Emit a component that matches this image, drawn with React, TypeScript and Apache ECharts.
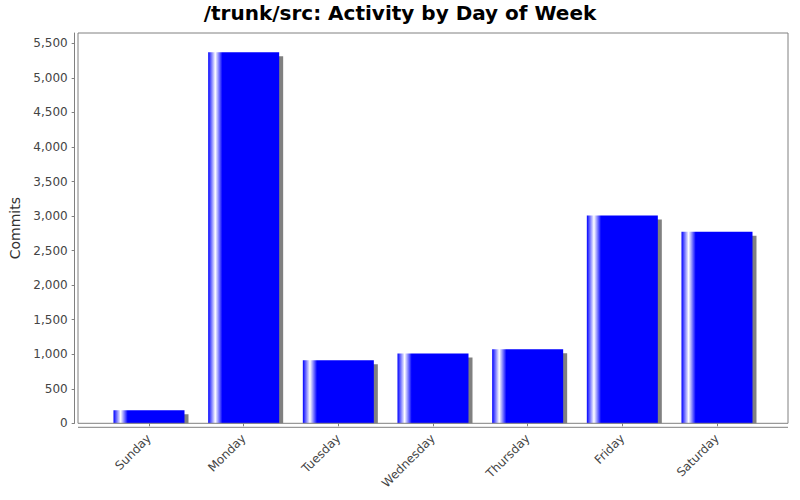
import { useEffect, useRef } from 'react'
import * as echarts from 'echarts'

// data
const days = ['Sunday', 'Monday', 'Tuesday', 'Wednesday', 'Thursday', 'Friday', 'Saturday']
const commits = [188, 5373, 912, 1012, 1072, 3008, 2774]

const yMax = 5650
const yStep = 500

const FONT = '"DejaVu Sans", sans-serif'
const BAR_W = 71
const SHADOW = 4

export default function App() {
  const chartRef = useRef<HTMLDivElement>(null)

  useEffect(() => {
    if (!chartRef.current) return
    document.body.style.margin = '0'
    const chart = echarts.init(chartRef.current, null, { renderer: 'svg' })

    const barFill = new echarts.graphic.LinearGradient(0, 0, 1, 0, [
      { offset: 0, color: '#0000ff' },
      { offset: 0.1, color: '#ffffff' },
      { offset: 0.2, color: '#0000ff' },
      { offset: 1, color: '#0000ff' },
    ])

    const option = {
      animation: false,
      backgroundColor: '#ffffff',
      title: {
        text: '/trunk/src: Activity by Day of Week',
        left: 'center',
        top: -2,
        textStyle: { fontFamily: FONT, fontSize: 20, fontWeight: 'bold', color: '#000000' },
      },
      grid: { left: 101.67, right: 35.67, top: 33, bottom: 76.7 },
      xAxis: {
        type: 'category',
        data: days,
        offset: 4,
        axisLine: { show: false },
        axisTick: { show: true, alignWithLabel: true, length: 3, lineStyle: { color: '#808080' } },
        axisLabel: {
          rotate: 45,
          margin: 9,
          fontFamily: FONT,
          fontSize: 12,
          color: '#444444',
        },
      },
      yAxis: {
        type: 'value',
        min: 0,
        max: yMax,
        interval: yStep,
        offset: 27,
        name: 'Commits',
        nameLocation: 'middle',
        nameGap: 48,
        nameTextStyle: { fontFamily: FONT, fontSize: 14, color: '#333333' },
        axisLine: { show: true, lineStyle: { color: '#808080' } },
        axisTick: { show: true, length: 3, lineStyle: { color: '#808080' } },
        splitLine: { show: false },
        axisLabel: {
          margin: 7,
          fontFamily: FONT,
          fontSize: 12,
          color: '#444444',
          formatter: (v: number) => v.toLocaleString('en-US'),
          showMaxLabel: false,
        },
      },
      graphic: [
        {
          type: 'rect',
          shape: { x: 78, y: 33, width: 710, height: 390.3 },
          style: { fill: 'none', stroke: '#808080', lineWidth: 1 },
          z: 10,
        },
        {
          type: 'line',
          shape: { x1: 78, y1: 427.3, x2: 788, y2: 427.3 },
          style: { stroke: '#808080', lineWidth: 1 },
          z: 10,
        },
      ],
      series: [
        {
          // drop shadow behind each bar
          type: 'custom',
          z: 1,
          data: commits.map((v, i) => [i, v]),
          renderItem: (params: any, api: any) => {
            const top = api.coord([api.value(0), api.value(1)])
            const base = api.coord([api.value(0), 0])
            const h = base[1] - top[1] - SHADOW
            if (h <= 0) return null
            return {
              type: 'rect',
              shape: { x: top[0] - BAR_W / 2 + SHADOW, y: top[1] + SHADOW, width: BAR_W, height: h },
              style: { fill: '#808080' },
            }
          },
        },
        {
          type: 'bar',
          z: 2,
          data: commits,
          barWidth: BAR_W,
          itemStyle: { color: barFill },
        },
      ],
    }

    chart.setOption(option)
    return () => chart.dispose()
  }, [])

  return <div ref={chartRef} style={{ width: 800, height: 500 }} />
}
